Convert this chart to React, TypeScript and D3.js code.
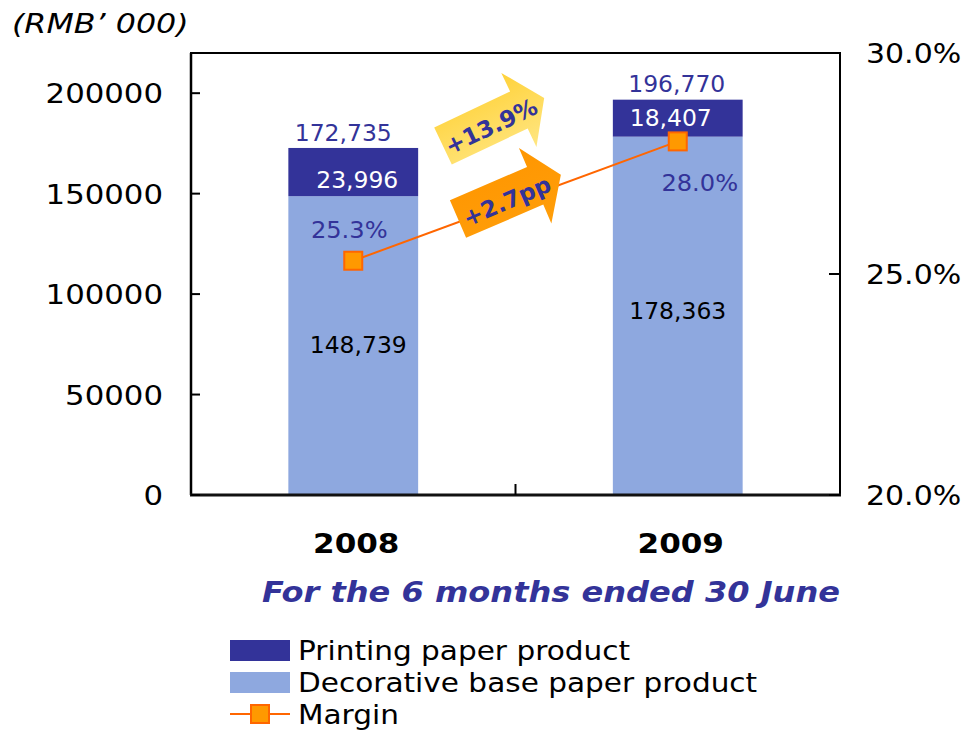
import React from "react";
import * as d3 from "d3";

const categories = ["2008", "2009"];
const decorative = [148739, 178363];
const printing = [23996, 18407];
const totals = [172735, 196770];
const margin = [0.253, 0.28];
const leftTicks = [0, 50000, 100000, 150000, 200000];
const rightTicks = [0.2, 0.25, 0.3];
const growthLabels = ["+13.9%", "+2.7pp"];
const unitLabel = "(RMB\u2019 000)";
const subtitle = "For the 6 months ended 30 June";
const legendLabels = ["Printing paper product", "Decorative base paper product", "Margin"];

// layout (not data)
const W = 971, H = 730;
const PL = 191, PR = 840, PT = 53, PB = 495;
const DARK = "#333399";
const LIGHT = "#8EA8DF";
const ORANGE = "#FF9900";
const ORANGE_LINE = "#FF6600";
const FONT = "'DejaVu Sans', Verdana, sans-serif";
const labelLayout = [
  { totalDx: -10, totalDy: -7, darkDx: 4, darkDy: 16, lightDx: 5, lightDy: 7, mDx: -4, mDy: -23 },
  { totalDx: -1, totalDy: -8, darkDx: -7, darkDy: 8, lightDx: 0, lightDy: 3, mDx: 22, mDy: 50 },
];
const arrows = [
  { x: 443, y: 146, rot: -25.4, fill: "url(#yellowGrad)" },
  { x: 458, y: 219, rot: -23.3, fill: "url(#orangeGrad)" },
];

function SText({ x, y, sx = 1, anchor = "start", children, ...rest }: any) {
  return (
    <text transform={`translate(${x},${y}) scale(${sx},1)`} textAnchor={anchor} fontFamily={FONT} {...rest}>
      {children}
    </text>
  );
}

export default function App() {
  const x = d3.scaleBand<string>().domain(categories).range([PL, PR]).padding(0);
  const bw = x.bandwidth();
  const barW = bw * 0.4;
  const y = d3.scaleLinear().domain([0, 220000]).range([PB, PT]);
  const yr = d3.scaleLinear().domain([0.2, 0.3]).range([PB, PT]);
  const fmtN = d3.format(",");
  const fmtP = d3.format(".1%");
  const cx = (c: string) => (x(c) as number) + bw / 2;

  const line = d3
    .line<number>()
    .x((_, i) => cx(categories[i]))
    .y((d) => yr(d));

  const arrowPath = "M0,-20.5 L84,-20.5 L84,-41 L112,0 L84,41 L84,20.5 L0,20.5 Z";

  return (
    <svg width={W} height={H} style={{ position: "absolute", left: 0, top: 0, background: "#fff" }}>
      <defs>
        <linearGradient id="yellowGrad" x1="0" y1="1" x2="0" y2="0">
          <stop offset="0" stopColor="#FFE682" />
          <stop offset="1" stopColor="#FFD23A" />
        </linearGradient>
        <linearGradient id="orangeGrad" x1="0" y1="1" x2="0" y2="0">
          <stop offset="0" stopColor="#FF9E0A" />
          <stop offset="1" stopColor="#FF9600" />
        </linearGradient>
      </defs>

      {/* unit label */}
      <SText x={12} y={33} fontSize={26} fontStyle="italic" fill="#000" sx={1.22}>
        {unitLabel}
      </SText>

      {/* bars */}
      {categories.map((c, i) => {
        const bx = (x(c) as number) + bw * 0.3;
        return (
          <g key={c}>
            <rect x={bx} width={barW} y={y(decorative[i])} height={y(0) - y(decorative[i])} fill={LIGHT} />
            <rect
              x={bx}
              width={barW}
              y={y(decorative[i] + printing[i])}
              height={y(decorative[i]) - y(decorative[i] + printing[i])}
              fill={DARK}
            />
          </g>
        );
      })}

      {/* frame */}
      <rect x={PL} y={PT} width={PR - PL} height={PB - PT} fill="none" stroke="#000" strokeWidth={2} />
      <line x1={PL} x2={PL} y1={PT} y2={PB} stroke="#000" strokeWidth={2.5} />
      <line x1={PL - 1} x2={PR + 1} y1={PB} y2={PB} stroke="#111" strokeWidth={3} />

      {/* left ticks */}
      {leftTicks.map((t) => (
        <g key={t}>
          <line x1={PL} x2={PL + 9} y1={y(t)} y2={y(t)} stroke="#000" strokeWidth={2} />
          <SText x={163} y={y(t) + 10} anchor="end" fontSize={27} sx={1.14} fill="#000">
            {String(t)}
          </SText>
        </g>
      ))}

      {/* right ticks */}
      {rightTicks.map((t) => (
        <g key={t}>
          <line x1={PR - 11} x2={PR} y1={yr(t)} y2={yr(t)} stroke="#000" strokeWidth={2} />
          <SText x={866} y={yr(t) + 10} fontSize={27} sx={1.11} fill="#000">
            {fmtP(t)}
          </SText>
        </g>
      ))}

      {/* category separator tick */}
      <line x1={x(categories[1]) as number} x2={x(categories[1]) as number} y1={PB - 11} y2={PB} stroke="#000" strokeWidth={2} />

      {/* category labels */}
      {categories.map((c) => (
        <SText key={c} x={cx(c) + 3} y={553} anchor="middle" fontSize={27} fontWeight="bold" sx={1.15} fill="#000">
          {c}
        </SText>
      ))}

      <text x={262} y={602} fontFamily={FONT} fontSize={28} fontWeight="bold" fontStyle="italic" fill={DARK} textLength={578} lengthAdjust="spacingAndGlyphs">
        {subtitle}
      </text>

      {/* margin line */}
      <path d={line(margin) || ""} fill="none" stroke={ORANGE_LINE} strokeWidth={2} />

      {/* growth arrows */}
      {arrows.map((a, i) => (
        <g key={i} transform={`translate(${a.x},${a.y}) rotate(${a.rot})`}>
          <path d={arrowPath} fill={a.fill} />
          <text x={52} y={3} textAnchor="middle" dominantBaseline="central" fontFamily={FONT} fontWeight="bold" fontSize={23} fill={DARK}>
            {growthLabels[i]}
          </text>
        </g>
      ))}

      {/* margin markers */}
      {margin.map((m, i) => (
        <rect key={i} x={cx(categories[i]) - 9} y={yr(m) - 9} width={18} height={18} fill={ORANGE} stroke={ORANGE_LINE} strokeWidth={2} />
      ))}

      {/* data labels */}
      {categories.map((c, i) => {
        const L = labelLayout[i];
        const mx = cx(c);
        const top = y(totals[i]);
        const mid = (y(decorative[i] + printing[i]) + y(decorative[i])) / 2;
        const lmid = (y(decorative[i]) + y(0)) / 2;
        return (
          <g key={c} fontSize={23}>
            <SText x={mx + L.totalDx} y={top + L.totalDy} anchor="middle" sx={1.02} fill={DARK}>
              {fmtN(totals[i])}
            </SText>
            <SText x={mx + L.darkDx} y={mid + L.darkDy} anchor="middle" sx={1.02} fill="#fff">
              {fmtN(printing[i])}
            </SText>
            <SText x={mx + L.lightDx} y={lmid + L.lightDy} anchor="middle" sx={1.02} fill="#000">
              {fmtN(decorative[i])}
            </SText>
            <SText x={mx + L.mDx} y={yr(margin[i]) + L.mDy} anchor="middle" sx={1.05} fill={DARK}>
              {fmtP(margin[i])}
            </SText>
          </g>
        );
      })}

      {/* legend */}
      <rect x={230} y={640} width={60} height={21} fill={DARK} />
      <rect x={230} y={672} width={60} height={21} fill={LIGHT} />
      <line x1={230} x2={290} y1={714} y2={714} stroke={ORANGE_LINE} strokeWidth={2} />
      <rect x={251} y={705} width={18} height={18} fill={ORANGE} stroke={ORANGE_LINE} strokeWidth={2} />
      {legendLabels.map((l, i) => (
        <SText key={l} x={298} y={660 + i * 32} fontSize={27} sx={1.095} fill="#000">
          {l}
        </SText>
      ))}
    </svg>
  );
}
